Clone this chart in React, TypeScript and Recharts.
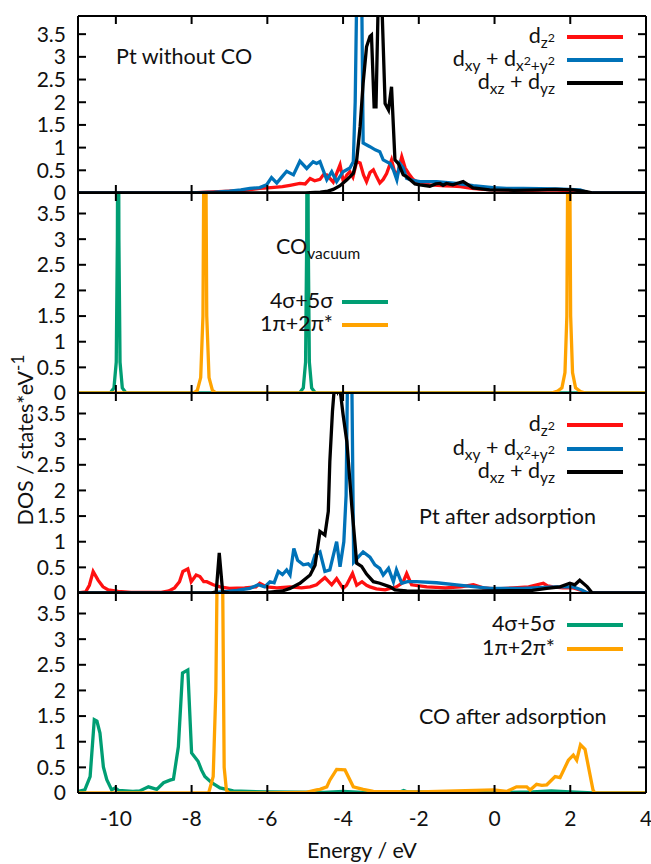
import React from "react";
import { Line, LineChart, XAxis, YAxis } from "recharts";

type Pt = [number, number];

const xTicks = [-10, -8, -6, -4, -2, 0, 2, 4];
const yTicks = [0, 0.5, 1, 1.5, 2, 2.5, 3, 3.5];

// panel 1: Pt without CO
const ptFreeDz2: Pt[] = [
  [-11, 0], [-8, 0], [-7.6, 0.02], [-7, 0.04], [-6.6, 0.06], [-6.2, 0.1], [-5.9, 0.12],
  [-5.6, 0.14], [-5.4, 0.17], [-5.14, 0.21], [-5, 0.2], [-4.87, 0.32], [-4.75, 0.27],
  [-4.61, 0.3], [-4.52, 0.4], [-4.43, 0.4], [-4.26, 0.24], [-4.08, 0.62], [-3.99, 0.24],
  [-3.9, 0.4], [-3.82, 0.47], [-3.74, 0.35], [-3.64, 0.69], [-3.55, 0.66], [-3.46, 0.4],
  [-3.38, 0.25], [-3.29, 0.45], [-3.2, 0.51], [-3.11, 0.35], [-3.03, 0.22], [-2.94, 0.3],
  [-2.85, 0.43], [-2.72, 0.73], [-2.65, 0.5], [-2.58, 0.36], [-2.45, 0.8], [-2.36, 0.55],
  [-2.27, 0.43], [-2.15, 0.3], [-2.06, 0.25], [-1.9, 0.2], [-1.7, 0.18], [-1.5, 0.17],
  [-1.3, 0.16], [-1.1, 0.15], [-0.9, 0.14], [-0.6, 0.1], [-0.3, 0.08], [0, 0.07],
  [0.5, 0.06], [1, 0.06], [1.5, 0.07], [1.8, 0.06], [2.1, 0.04], [2.4, 0.01], [2.6, 0], [4, 0],
];
const ptFreeDxy: Pt[] = [
  [-11, 0], [-8.2, 0], [-7.8, 0.01], [-7.4, 0.02], [-7, 0.04], [-6.7, 0.07], [-6.46, 0.1],
  [-6.2, 0.12], [-6.02, 0.18], [-5.89, 0.34], [-5.75, 0.22], [-5.62, 0.35], [-5.49, 0.48],
  [-5.31, 0.4], [-5.14, 0.7], [-4.96, 0.54], [-4.79, 0.69], [-4.7, 0.65], [-4.61, 0.69],
  [-4.43, 0.29], [-4.3, 0.47], [-4.17, 0.25], [-4, 0.47], [-3.82, 0.55], [-3.73, 0.69],
  [-3.68, 2], [-3.62, 5.5], [-3.52, 5.5], [-3.47, 1.1], [-3.29, 1.02], [-3.15, 0.95],
  [-3.03, 0.91], [-2.94, 0.73], [-2.76, 0.65], [-2.67, 0.51], [-2.58, 0.29], [-2.5, 0.65],
  [-2.41, 0.55], [-2.32, 0.32], [-2.15, 0.28], [-1.97, 0.25], [-1.53, 0.25], [-1, 0.21],
  [-0.56, 0.16], [-0.04, 0.12], [0.32, 0.1], [0.76, 0.1], [1.64, 0.09], [2.26, 0.07],
  [2.5, 0], [4, 0],
];
const ptFreeDxz: Pt[] = [
  [-11, 0], [-5, 0], [-4.6, 0.02], [-4.4, 0.04], [-4.26, 0.08], [-4.08, 0.16], [-3.9, 0.29],
  [-3.73, 0.43], [-3.64, 0.73], [-3.55, 1.46], [-3.47, 2.42], [-3.38, 3.22], [-3.29, 3.45],
  [-3.25, 3.48], [-3.18, 1.9], [-3.13, 1.9], [-3.07, 4.3], [-2.98, 4.3], [-2.89, 1.97],
  [-2.8, 1.83], [-2.72, 2.34], [-2.63, 0.73], [-2.54, 0.65], [-2.41, 0.4], [-2.32, 0.36],
  [-2.1, 0.2], [-1.97, 0.18], [-1.71, 0.15], [-1.55, 0.2], [-1.44, 0.21], [-1.36, 0.17],
  [-1.27, 0.21], [-1.1, 0.18], [-1, 0.21], [-0.83, 0.25], [-0.57, 0.11], [-0.13, 0.07],
  [0.5, 0.06], [1.2, 0.07], [1.6, 0.08], [2.08, 0.07], [2.43, 0.03], [2.6, 0], [4, 0],
];

// panel 2: CO in vacuum
const coVacSigma: Pt[] = [
  [-11, 0], [-10.15, 0], [-10.05, 0.1], [-9.99, 0.6], [-9.96, 3], [-9.94, 8], [-9.92, 3],
  [-9.89, 0.6], [-9.83, 0.1], [-9.73, 0], [-5.15, 0], [-5.05, 0.1], [-4.99, 0.6],
  [-4.96, 3], [-4.94, 8], [-4.92, 3], [-4.89, 0.6], [-4.83, 0.1], [-4.73, 0], [4, 0],
];
const coVacPi: Pt[] = [
  [-11, 0], [-7.95, 0], [-7.85, 0.05], [-7.76, 0.3], [-7.7, 1.5], [-7.65, 8], [-7.6, 1.5],
  [-7.54, 0.3], [-7.45, 0.05], [-7.35, 0], [1.5, 0], [1.65, 0.03], [1.78, 0.1], [1.86, 0.4],
  [1.91, 1.5], [1.96, 8], [2.01, 1.5], [2.06, 0.4], [2.14, 0.1], [2.27, 0.03], [2.4, 0], [4, 0],
];

// panel 3: Pt after adsorption
const ptAdsDz2: Pt[] = [
  [-11, 0], [-10.8, 0.02], [-10.7, 0.15], [-10.6, 0.42], [-10.47, 0.25], [-10.34, 0.12],
  [-10.2, 0.06], [-9.94, 0.03], [-9.6, 0.01], [-8.8, 0.01], [-8.6, 0.04], [-8.45, 0.1],
  [-8.32, 0.22], [-8.23, 0.42], [-8.1, 0.47], [-8.01, 0.22], [-7.88, 0.35], [-7.78, 0.32],
  [-7.68, 0.22], [-7.6, 0.22], [-7.43, 0.16], [-7.25, 0.12], [-7, 0.09], [-6.6, 0.1],
  [-6.3, 0.12], [-6.2, 0.19], [-6.02, 0.12], [-5.75, 0.1], [-5.4, 0.12], [-5.1, 0.1],
  [-4.87, 0.12], [-4.7, 0.16], [-4.61, 0.22], [-4.48, 0.3], [-4.3, 0.16], [-4.17, 0.28],
  [-4, 0.09], [-3.91, 0.15], [-3.75, 0.38], [-3.64, 0.15], [-3.5, 0.22], [-3.38, 0.15],
  [-3.29, 0.12], [-3.12, 0.08], [-2.89, 0.06], [-2.59, 0.12], [-2.42, 0.2], [-2.32, 0.38],
  [-2.19, 0.16], [-1.79, 0.12], [-1.3, 0.1], [-0.9, 0.12], [-0.56, 0.16], [-0.3, 0.1],
  [0.05, 0.08], [0.5, 0.1], [0.9, 0.12], [1.29, 0.19], [1.4, 0.14], [1.55, 0.12],
  [1.8, 0.1], [2.08, 0.1], [2.3, 0.05], [2.45, 0], [4, 0],
];
const ptAdsDxy: Pt[] = [
  [-11, 0], [-7.5, 0], [-7.2, 0.02], [-6.8, 0.05], [-6.46, 0.09], [-6.24, 0.16], [-6.07, 0.12],
  [-5.93, 0.22], [-5.82, 0.2], [-5.71, 0.42], [-5.6, 0.36], [-5.49, 0.45], [-5.4, 0.35],
  [-5.3, 0.87], [-5.2, 0.64], [-5.05, 0.55], [-4.92, 0.57], [-4.84, 0.51], [-4.74, 0.74],
  [-4.61, 0.8], [-4.48, 0.42], [-4.35, 0.45], [-4.17, 1], [-4.08, 0.51], [-3.98, 1],
  [-3.92, 1.9], [-3.87, 5], [-3.78, 5], [-3.72, 0.6], [-3.6, 0.7], [-3.47, 0.8], [-3.29, 0.7],
  [-3.16, 0.55], [-3.03, 0.48], [-2.94, 0.35], [-2.8, 0.48], [-2.67, 0.22], [-2.59, 0.45],
  [-2.45, 0.19], [-2.3, 0.22], [-2.06, 0.22], [-1.53, 0.2], [-1, 0.16], [-0.5, 0.12],
  [-0.12, 0.09], [0.76, 0.09], [1.6, 0.12], [2.08, 0.12], [2.3, 0.06], [2.45, 0], [4, 0],
];
const ptAdsDxz: Pt[] = [
  [-11, 0], [-7.5, 0], [-7.35, 0.02], [-7.27, 0.78], [-7.18, 0.02], [-7, 0], [-6, 0.01],
  [-5.6, 0.04], [-5.4, 0.09], [-5.14, 0.19], [-4.87, 0.35], [-4.74, 0.54], [-4.61, 1.2],
  [-4.48, 1.13], [-4.39, 1.59], [-4.35, 2.56], [-4.28, 3.54], [-4.22, 4.1], [-4.15, 3.95],
  [-4.1, 4.1], [-4, 3.48], [-3.9, 2.95], [-3.77, 1.7], [-3.64, 0.58], [-3.51, 0.52],
  [-3.38, 0.37], [-3.2, 0.22], [-3.03, 0.19], [-2.76, 0.12], [-2.63, 0.06], [-2.32, 0.04],
  [-1.5, 0.03], [0, 0.04], [1, 0.05], [1.38, 0.09], [1.73, 0.12], [1.99, 0.19], [2.12, 0.16],
  [2.25, 0.25], [2.45, 0.12], [2.58, 0], [4, 0],
];

// panel 4: CO after adsorption
const coAdsSigma: Pt[] = [
  [-11, 0.03], [-10.82, 0.06], [-10.68, 0.32], [-10.57, 1.43], [-10.5, 1.4], [-10.42, 1.17],
  [-10.33, 0.51], [-10.24, 0.26], [-10.11, 0.06], [-10.02, 0.1], [-9.93, 0.05], [-9.55, 0.03],
  [-9.37, 0.04], [-9.14, 0.12], [-8.92, 0.07], [-8.74, 0.2], [-8.57, 0.25], [-8.48, 0.27],
  [-8.35, 0.9], [-8.24, 2.34], [-8.1, 2.4], [-8, 0.78], [-7.83, 0.62], [-7.74, 0.45],
  [-7.65, 0.32], [-7.47, 0.2], [-7.25, 0.1], [-6.9, 0.04], [-6, 0.02], [-4.5, 0.01],
  [-4, 0.03], [-3.5, 0.01], [-2.5, 0.02], [-2.4, 0.05], [-2.3, 0.02], [-1, 0.01], [0, 0.01],
  [1, 0.02], [1.5, 0.04], [2, 0.02], [2.6, 0], [4, 0],
];
const coAdsPi: Pt[] = [
  [-11, 0], [-7.55, 0], [-7.43, 0.32], [-7.36, 2], [-7.3, 6], [-7.2, 6], [-7.14, 0.5],
  [-7.08, 0.05], [-7, 0], [-6, 0], [-5, 0.01], [-4.7, 0.06], [-4.61, 0.07], [-4.43, 0.12],
  [-4.35, 0.25], [-4.17, 0.46], [-3.95, 0.45], [-3.73, 0.12], [-3.47, 0.07], [-3.2, 0.03],
  [-2, 0.02], [-0.03, 0.06], [0.32, 0.03], [0.58, 0.12], [0.85, 0.12], [0.94, 0.06],
  [1.11, 0.17], [1.25, 0.15], [1.38, 0.16], [1.6, 0.32], [1.73, 0.3], [1.95, 0.64],
  [2.08, 0.74], [2.17, 0.64], [2.27, 0.94], [2.39, 0.85], [2.6, 0.06], [2.65, 0], [4, 0],
];

const RED = "#ff1010";
const BLUE = "#0072b8";
const BLACK = "#000000";
const GREEN = "#009e73";
const ORANGE = "#ffa300";
const TEXT = "#111";
const FONT = "Lato, 'Open Sans', sans-serif";
const TICK_FS = 21;
const LABEL_FS = 21.5;

const W = 651;
const PAD = 12;
const AXIS = { stroke: "#000", strokeWidth: 2 };

type Series = { name: string; pts: Pt[]; color: string };

const toData = (pts: Pt[]) => pts.map(([x, y]) => ({ x, y }));

function Panel({
  top,
  plotH,
  series,
  showX = false,
}: {
  top: number;
  plotH: number;
  series: Series[];
  showX?: boolean;
}) {
  const bottomH = showX ? 70 : PAD;
  const H = PAD + plotH + bottomH;
  return (
    <div style={{ position: "absolute", left: 0, top: top - PAD }}>
      <LineChart width={W} height={H} margin={{ top: 0, right: 0, bottom: 0, left: 0 }}>
        <XAxis
          xAxisId="t"
          orientation="top"
          type="number"
          dataKey="x"
          domain={[-11, 4]}
          ticks={xTicks}
          interval={0}
          allowDataOverflow
          height={PAD}
          tickSize={0}
          tickMargin={0}
          tickLine={false}
          axisLine={AXIS}
          tick={(p: any) => (
            <line x1={p.x} x2={p.x} y1={p.y} y2={p.y + 8} stroke="#000" strokeWidth={2} />
          )}
        />
        <XAxis
          xAxisId="b"
          orientation="bottom"
          type="number"
          dataKey="x"
          domain={[-11, 4]}
          ticks={xTicks}
          interval={0}
          allowDataOverflow
          height={bottomH}
          tickSize={0}
          tickMargin={0}
          tickLine={false}
          axisLine={AXIS}
          tick={(p: any) => (
            <g>
              <line x1={p.x} x2={p.x} y1={p.y} y2={p.y - 8} stroke="#000" strokeWidth={2} />
              {showX && (
                <text
                  x={p.x}
                  y={p.y + 26}
                  dy="0.35em"
                  textAnchor="middle"
                  fontSize={TICK_FS}
                  fontFamily={FONT}
                  fill={TEXT}
                >
                  {p.payload.value}
                </text>
              )}
            </g>
          )}
        />
        <YAxis
          yAxisId="l"
          orientation="left"
          type="number"
          domain={[0, 3.9]}
          ticks={yTicks}
          interval={0}
          allowDataOverflow
          width={78}
          tickSize={0}
          tickMargin={0}
          tickLine={false}
          axisLine={AXIS}
          tick={(p: any) => (
            <g>
              <line x1={p.x} x2={p.x + 8} y1={p.y} y2={p.y} stroke="#000" strokeWidth={2} />
              <text
                x={p.x - 12}
                y={p.y}
                dy="0.35em"
                textAnchor="end"
                fontSize={TICK_FS}
                fontFamily={FONT}
                fill={TEXT}
              >
                {p.payload.value}
              </text>
            </g>
          )}
        />
        <YAxis
          yAxisId="r"
          orientation="right"
          type="number"
          domain={[0, 3.9]}
          ticks={yTicks}
          interval={0}
          allowDataOverflow
          width={5}
          tickSize={0}
          tickMargin={0}
          tickLine={false}
          axisLine={AXIS}
          tick={(p: any) => (
            <line x1={p.x} x2={p.x - 8} y1={p.y} y2={p.y} stroke="#000" strokeWidth={2} />
          )}
        />
        {series.map((s) => (
          <Line
            key={s.name}
            xAxisId="b"
            yAxisId="l"
            data={toData(s.pts)}
            dataKey="y"
            name={s.name}
            type="linear"
            stroke={s.color}
            strokeWidth={3.3}
            dot={false}
            activeDot={false}
            isAnimationActive={false}
          />
        ))}
      </LineChart>
    </div>
  );
}

const Lo = ({ children }: { children: React.ReactNode }) => (
  <span style={{ fontSize: "0.72em", position: "relative", top: "0.35em" }}>{children}</span>
);
const Hi = ({ children }: { children: React.ReactNode }) => (
  <span style={{ fontSize: "0.8em", position: "relative", top: "-0.5em" }}>{children}</span>
);

function Label({
  left,
  right,
  cy,
  children,
}: {
  left?: number;
  right?: number;
  cy: number;
  children: React.ReactNode;
}) {
  return (
    <div
      style={{
        position: "absolute",
        left,
        right: right !== undefined ? W - right : undefined,
        top: cy - 13,
        fontSize: LABEL_FS,
        lineHeight: "22px",
        whiteSpace: "nowrap",
        color: TEXT,
      }}
    >
      {children}
    </div>
  );
}

function Key({ x1, x2, cy, color }: { x1: number; x2: number; cy: number; color: string }) {
  return (
    <div
      style={{
        position: "absolute",
        left: x1,
        top: cy - 2,
        width: x2 - x1,
        height: 4,
        background: color,
      }}
    />
  );
}

const dz2 = (
  <>
    d<Lo>z<Hi>2</Hi></Lo>
  </>
);
const dxy = (
  <>
    d<Lo>xy</Lo> + d<Lo>x<Hi>2</Hi>+y<Hi>2</Hi></Lo>
  </>
);
const dxz = (
  <>
    d<Lo>xz</Lo> + d<Lo>yz</Lo>
  </>
);

export default function App() {
  return (
    <div
      style={{
        position: "fixed",
        left: 0,
        top: 0,
        width: W,
        height: 864,
        overflow: "hidden",
        background: "#fff",
        fontFamily: FONT,
      }}
    >
      <Panel
        top={16}
        plotH={177}
        series={[
          { name: "dz2", pts: ptFreeDz2, color: RED },
          { name: "dxy", pts: ptFreeDxy, color: BLUE },
          { name: "dxz", pts: ptFreeDxz, color: BLACK },
        ]}
      />
      <Panel
        top={193}
        plotH={200}
        series={[
          { name: "sigma", pts: coVacSigma, color: GREEN },
          { name: "pi", pts: coVacPi, color: ORANGE },
        ]}
      />
      <Panel
        top={393}
        plotH={200}
        series={[
          { name: "dz2", pts: ptAdsDz2, color: RED },
          { name: "dxy", pts: ptAdsDxy, color: BLUE },
          { name: "dxz", pts: ptAdsDxz, color: BLACK },
        ]}
      />
      <Panel
        top={593}
        plotH={200}
        showX
        series={[
          { name: "sigma", pts: coAdsSigma, color: GREEN },
          { name: "pi", pts: coAdsPi, color: ORANGE },
        ]}
      />

      {/* panel 1 */}
      <Label left={116} cy={58}>Pt without CO</Label>
      <Label right={555} cy={37}>{dz2}</Label>
      <Label right={555} cy={60}>{dxy}</Label>
      <Label right={555} cy={83}>{dxz}</Label>
      <Key x1={567} x2={623} cy={37} color={RED} />
      <Key x1={567} x2={623} cy={60} color={BLUE} />
      <Key x1={567} x2={623} cy={83} color={BLACK} />

      {/* panel 2 */}
      <Label left={276} cy={248}>
        CO<Lo>vacuum</Lo>
      </Label>
      <Label right={333} cy={302}>4σ+5σ</Label>
      <Label right={333} cy={325}>1π+2π*</Label>
      <Key x1={342} x2={388} cy={302} color={GREEN} />
      <Key x1={342} x2={388} cy={325} color={ORANGE} />

      {/* panel 3 */}
      <Label right={555} cy={425}>{dz2}</Label>
      <Label right={555} cy={449}>{dxy}</Label>
      <Label right={555} cy={472}>{dxz}</Label>
      <Key x1={567} x2={623} cy={425} color={RED} />
      <Key x1={567} x2={623} cy={449} color={BLUE} />
      <Key x1={567} x2={623} cy={472} color={BLACK} />
      <Label left={419} cy={518}>Pt after adsorption</Label>

      {/* panel 4 */}
      <Label right={555} cy={625}>4σ+5σ</Label>
      <Label right={555} cy={649}>1π+2π*</Label>
      <Key x1={567} x2={623} cy={625} color={GREEN} />
      <Key x1={567} x2={623} cy={649} color={ORANGE} />
      <Label left={419} cy={718}>CO after adsorption</Label>

      {/* axis titles */}
      <div
        style={{
          position: "absolute",
          left: 362,
          top: 850,
          transform: "translate(-50%, -50%)",
          fontSize: LABEL_FS,
          whiteSpace: "nowrap",
          color: TEXT,
        }}
      >
        Energy / eV
      </div>
      <div
        style={{
          position: "absolute",
          left: 25,
          top: 440,
          transform: "translate(-50%, -50%) rotate(-90deg)",
          fontSize: LABEL_FS,
          whiteSpace: "nowrap",
          color: TEXT,
        }}
      >
        DOS / states*eV<Hi>-1</Hi>
      </div>
    </div>
  );
}
